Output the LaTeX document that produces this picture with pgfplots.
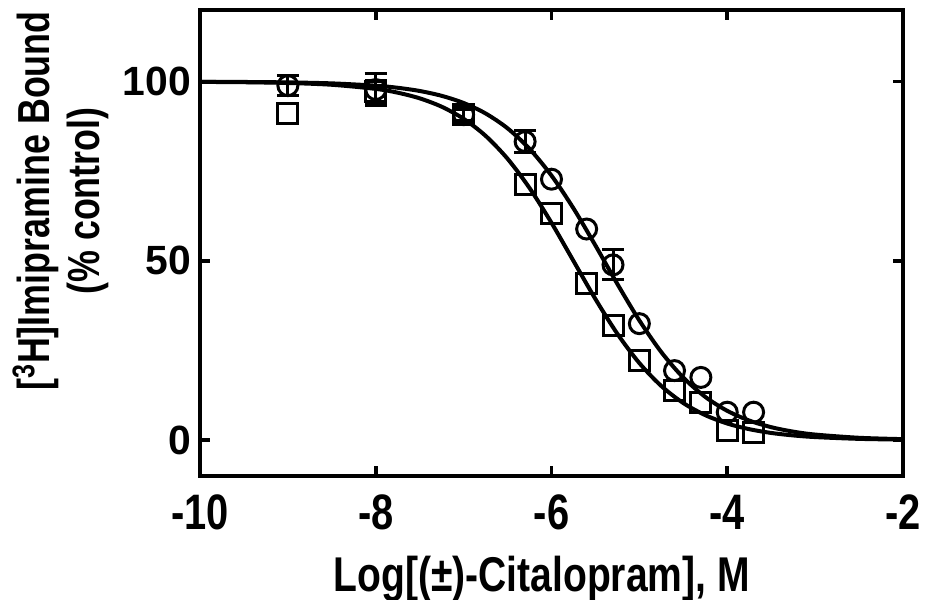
\documentclass[border=0pt]{standalone}
\usepackage{pgfplots}
\pgfplotsset{compat=1.18}
\usepackage{fontspec}
\setmainfont{Liberation Sans}
\newfontfamily\narrow{Liberation Sans}[FakeStretch=0.8]

% fitted one-site curves, tabulated
\pgfplotstableread{
x      y
-10    99.96
-9.5   99.92
-9     99.80
-8.5   99.53
-8     98.89
-7.75  98.30
-7.5   97.41
-7.25  96.06
-7     94.06
-6.75  91.14
-6.5   86.99
-6.25  81.27
-6     73.81
-5.75  64.67
-5.5   54.31
-5.25  43.56
-5     33.39
-4.75  24.55
-4.5   17.45
-4.25  12.07
-4     8.18
-3.75  5.47
-3.5   3.62
-3.25  2.38
-3     1.56
-2.5   0.66
-2     0.28
}\fitcirc
\pgfplotstableread{
x      y
-10    99.94
-9.5   99.85
-9     99.64
-8.5   99.14
-8     97.99
-7.75  96.93
-7.5   95.36
-7.25  93.02
-7     89.65
-6.75  84.90
-6.5   78.50
-6.25  70.34
-6     60.63
-5.75  50.00
-5.5   39.37
-5.25  29.66
-5     21.50
-4.75  15.10
-4.5   10.35
-4.25  6.98
-4     4.64
-3.75  3.07
-3.5   2.01
-3.25  1.32
-3     0.86
-2.5   0.36
-2     0.15
}\fitsq

\begin{document}
\begin{tikzpicture}
\begin{axis}[
  scale only axis,
  width=351.5bp, height=233bp,
  xmin=-10, xmax=-2, ymin=-10, ymax=120,
  xtick={-10,-8,-6,-4,-2},
  ytick={0,50,100},
  tick align=inside,
  major tick length=5bp,
  axis line style={line width=2bp},
  every tick/.style={black, line width=1.8bp},
  xticklabel style={font=\narrow\bfseries\fontsize{25}{25}\selectfont, yshift=-6bp},
  yticklabel style={font=\bfseries\fontsize{20.5}{20.5}\selectfont, xshift=-1bp},
  /pgf/number format/assume math mode=true,
  xlabel={Log[(±)-Citalopram], M},
  xlabel style={font=\narrow\bfseries\fontsize{24.5}{24.5}\selectfont,
    at={(axis description cs:0.486,-0.247)}, anchor=base},
  ylabel={[\textsuperscript{3}H]Imipramine Bound\\(\% control)},
  ylabel style={font=\narrow\bfseries\fontsize{22.5}{25}\selectfont, align=center,
    at={(axis description cs:-0.12,0.59)}, anchor=south},
  clip=false,
  errstyle/.style={forget plot, draw=none, mark=none,
    error bars/.cd, y dir=both, y explicit,
    error bar style={black, line width=1.5bp},
    error mark options={black, rotate=90, mark size=5.5bp, line width=1.5bp}},
]
\addplot[black, line width=2bp, smooth] table[x=x, y=y] {\fitcirc};
\addplot[black, line width=2bp, smooth] table[x=x, y=y] {\fitsq};

% circles
\addplot[errstyle] coordinates {
  (-9,98.9) +- (0,2.8)
  (-8,97.8) +- (0,4.5)
  (-7,90.8) +- (0,1.5)
  (-6.3,83.3) +- (0,3.0)
  (-5.3,48.9) +- (0,4.2)
};
\addplot[only marks, mark=o, mark size=5bp, mark options={line width=1.5bp}]
coordinates {
  (-9,98.9) (-8,97.8) (-7,90.8) (-6.3,83.3) (-6,72.8) (-5.6,58.9)
  (-5.3,48.9) (-5,32.5) (-4.6,19.4) (-4.3,17.5) (-4,7.8) (-3.7,7.8)
};

% squares
\addplot[errstyle] coordinates {
  (-8,97.3) +- (0,3.0)
  (-7,90.8) +- (0,2.0)
};
\addplot[only marks, mark=square, mark size=5bp, mark options={line width=1.5bp}]
coordinates {
  (-9,91.0) (-8,97.3) (-7,90.8) (-6.3,71.4) (-6,63.3) (-5.6,43.6)
  (-5.3,32.0) (-5,22.2) (-4.6,13.9) (-4.3,10.6) (-4,2.8) (-3.7,2.2)
};
\end{axis}
\pgfresetboundingbox
\path[use as bounding box] (-100bp,-62bp) rectangle (364.5bp,238bp);
\end{tikzpicture}
\end{document}
